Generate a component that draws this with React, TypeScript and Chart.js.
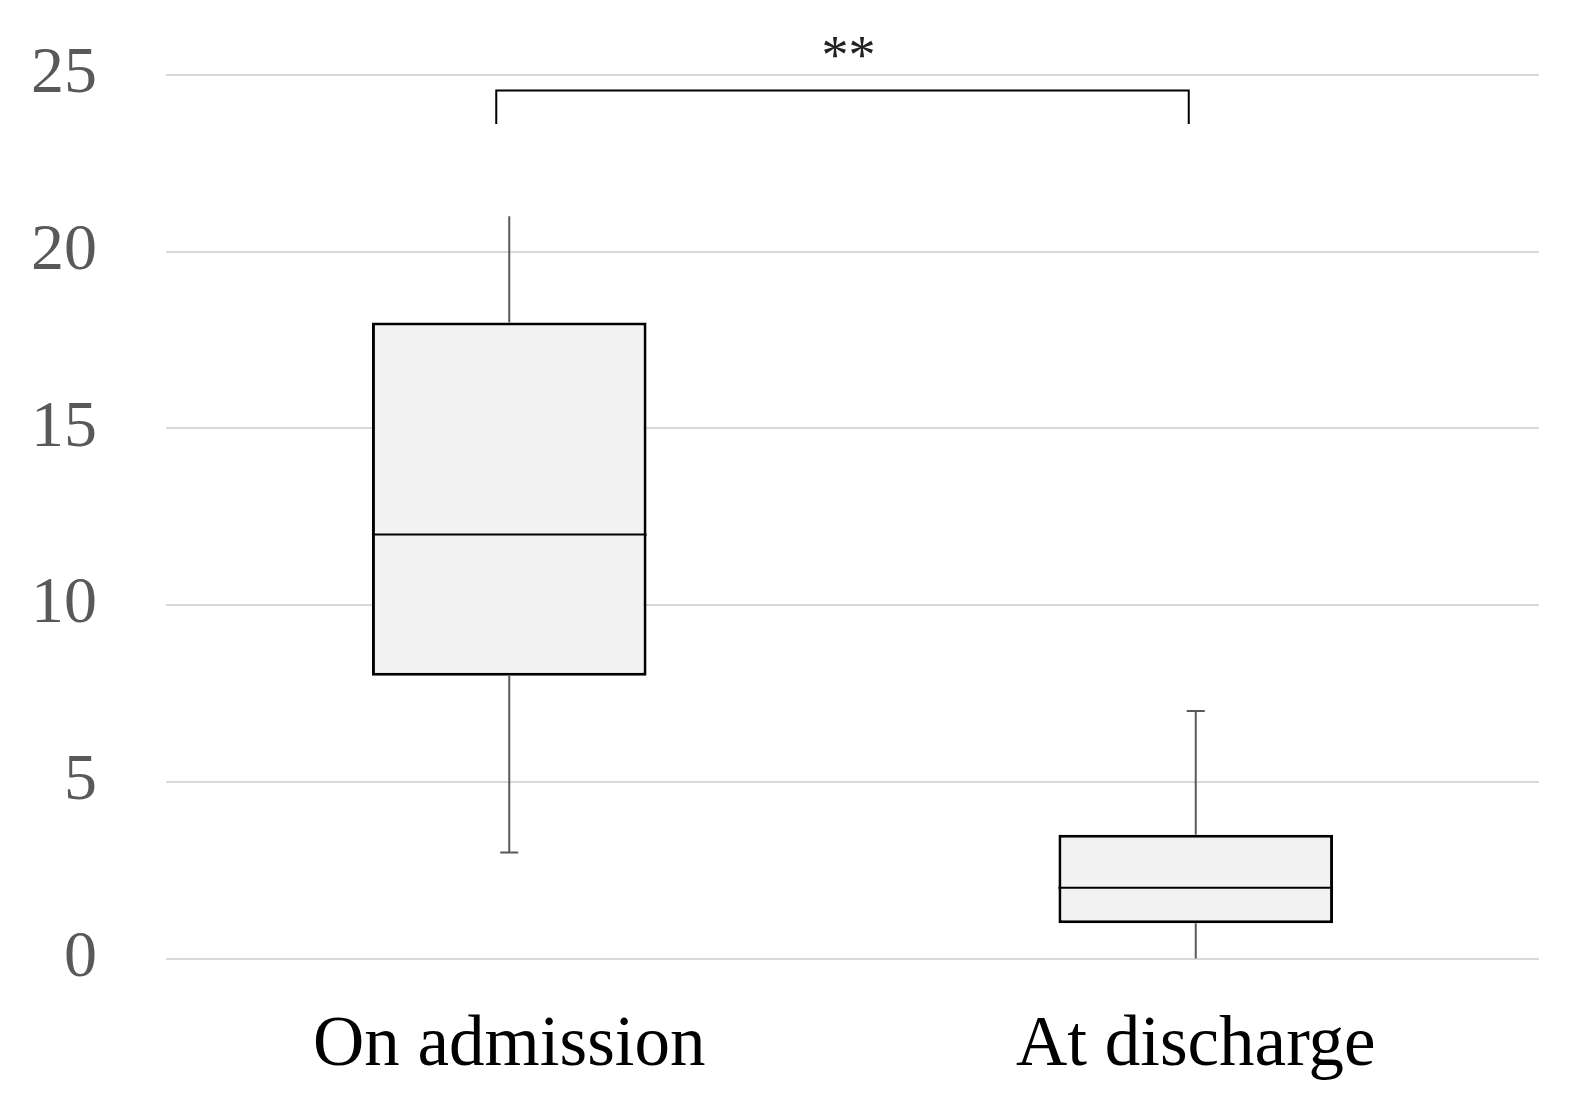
import React, { useEffect, useRef } from "react";
import { Chart, registerables } from "chart.js";

Chart.register(...registerables);

const categories = ["On admission", "At discharge"];
const mins = [3, 0];
const q1s = [8, 1];
const medians = [12, 2];
const q3s = [18, 3.5];
const maxs = [21, 7];
const yTicks = [0, 5, 10, 15, 20, 25];
const significance = "**";

const boxPlugin = {
  id: "boxExtras",
  afterDatasetsDraw(chart: any) {
    const { ctx, scales } = chart;
    const y = scales.y;
    const meta = chart.getDatasetMeta(0);
    const caps = [
      { low: true, high: false },
      { low: false, high: true },
    ];
    ctx.save();
    meta.data.forEach((bar: any, i: number) => {
      const cx = bar.x;
      const half = bar.width / 2;
      ctx.strokeStyle = "#595959";
      ctx.lineWidth = 2;
      ctx.beginPath();
      ctx.moveTo(cx, y.getPixelForValue(q3s[i]));
      ctx.lineTo(cx, y.getPixelForValue(maxs[i]));
      ctx.moveTo(cx, y.getPixelForValue(q1s[i]));
      ctx.lineTo(cx, y.getPixelForValue(mins[i]));
      if (caps[i].high) {
        ctx.moveTo(cx - 9, y.getPixelForValue(maxs[i]));
        ctx.lineTo(cx + 9, y.getPixelForValue(maxs[i]));
      }
      if (caps[i].low) {
        ctx.moveTo(cx - 9, y.getPixelForValue(mins[i]));
        ctx.lineTo(cx + 9, y.getPixelForValue(mins[i]));
      }
      ctx.stroke();
      ctx.strokeStyle = "#000";
      ctx.lineWidth = 2;
      ctx.beginPath();
      const my = y.getPixelForValue(medians[i]);
      ctx.moveTo(cx - half, my);
      ctx.lineTo(cx + half, my);
      ctx.stroke();
    });
    const x = scales.x;
    const xl = x.getPixelForValue(0) - 13;
    const xr = x.getPixelForValue(1) - 7;
    const yt = y.getPixelForValue(24.56);
    const yb = y.getPixelForValue(23.61);
    ctx.strokeStyle = "#000";
    ctx.lineWidth = 2;
    ctx.beginPath();
    ctx.moveTo(xl, yb);
    ctx.lineTo(xl, yt);
    ctx.lineTo(xr, yt);
    ctx.lineTo(xr, yb);
    ctx.stroke();
    ctx.fillStyle = "#222";
    ctx.font = "54px 'Liberation Serif'";
    ctx.textAlign = "center";
    ctx.textBaseline = "middle";
    ctx.fillText(significance, (xl + xr) / 2 + 6, y.getPixelForValue(25.45));
    ctx.restore();
  },
};

export default function App() {
  const ref = useRef<HTMLCanvasElement>(null);
  useEffect(() => {
    const chart = new Chart(ref.current!, {
      type: "bar",
      data: {
        labels: categories,
        datasets: [
          {
            data: q1s.map((q, i) => [q, q3s[i]]) as any,
            backgroundColor: "#f2f2f2",
            borderColor: "#000",
            borderWidth: 3,
            borderSkipped: false,
            barPercentage: 0.4,
            categoryPercentage: 1.0,
          },
        ],
      },
      options: {
        animation: false,
        responsive: false,
        layout: { padding: { top: 75, right: 38, left: 0, bottom: 0 } },
        plugins: { legend: { display: false }, tooltip: { enabled: false } },
        scales: {
          x: {
            grid: { display: false, drawTicks: false },
            border: { display: false },
            ticks: {
              color: "#000",
              padding: 45,
              font: { family: "'Liberation Serif'", size: 71 },
            },
            afterFit: (s: any) => {
              s.height = 143.5;
            },
          },
          y: {
            min: 0,
            max: 25,
            afterBuildTicks: (s: any) => {
              s.ticks = yTicks.map((v) => ({ value: v }));
            },
            grid: { color: "#d9d9d9", lineWidth: 2, drawTicks: false },
            border: { display: false },
            ticks: {
              color: "#595959",
              padding: 69,
              font: { family: "'Liberation Serif'", size: 66 },
            },
            afterFit: (s: any) => {
              s.width = 166;
              s.paddingTop = 0;
              s.paddingBottom = 0;
            },
          },
        },
      },
      plugins: [boxPlugin],
    });
    return () => chart.destroy();
  }, []);
  return (
    <div style={{ position: "absolute", left: 0, top: 0, width: 1577, height: 1102, background: "#fff" }}>
      <canvas ref={ref} width={1577} height={1102} />
    </div>
  );
}
